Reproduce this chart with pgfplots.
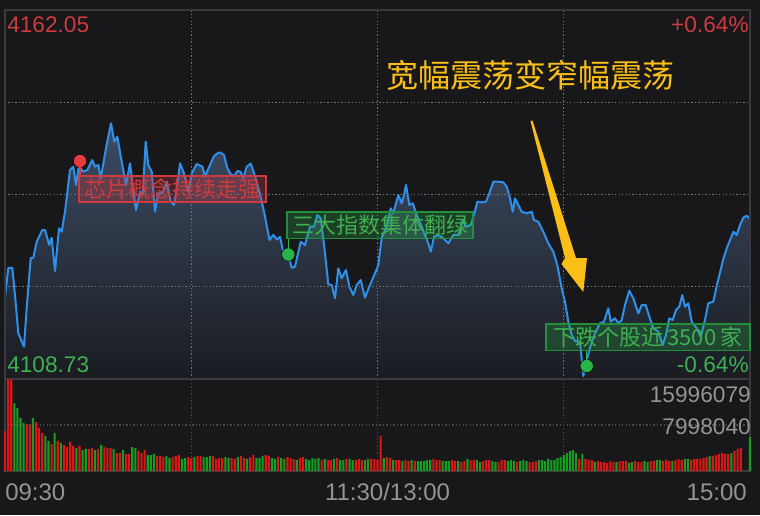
\documentclass[border=0pt]{standalone}
\usepackage{pgfplots}
\pgfplotsset{compat=1.18}
\usepackage{pgfplotstable}
\usepackage{fontspec}
\setmainfont{Liberation Sans}
\newfontfamily\cjk{Noto Sans CJK SC}

\definecolor{bg}{RGB}{24,24,26}
\definecolor{framec}{RGB}{58,58,60}
\definecolor{gridc}{RGB}{115,115,117}
\definecolor{gridv}{RGB}{72,72,74}
\definecolor{linec}{RGB}{46,144,234}
\definecolor{fillt}{RGB}{60,76,100}
\definecolor{fillb}{RGB}{26,28,33}
\definecolor{redtxt}{RGB}{205,58,64}
\definecolor{greentxt}{RGB}{62,176,82}
\definecolor{greytxt}{RGB}{148,148,150}
\definecolor{volred}{RGB}{218,22,22}
\definecolor{volgreen}{RGB}{22,158,34}
\definecolor{reddot}{RGB}{228,60,62}
\definecolor{greendot}{RGB}{42,180,72}
\definecolor{yel}{RGB}{250,190,22}

% minute index, index value
\pgfplotstableread{
m p
0 4120.62
1.06 4124.77
2.35 4124.81
3.22 4120.87
4.28 4115.38
6.12 4113.40
6.99 4118.99
8.28 4126.21
9.12 4126.25
10.21 4128.57
12.02 4130.26
12.89 4130.26
14.27 4128.09
15.04 4129.15
16.11 4124.34
17.40 4130.51
18.27 4130.01
19.33 4132.90
20.94 4138.93
22.00 4139.41
22.87 4136.76
23.84 4139.65
25.03 4138.68
26.51 4138.93
28.12 4140.37
28.99 4139.41
30.06 4139.65
30.83 4137.73
32.54 4142.07
34.15 4145.68
35.21 4143.02
36.18 4143.74
37.59 4140.13
38.98 4136.76
40.27 4139.90
41.01 4137.24
42.20 4133.15
43.49 4135.79
44.36 4135.32
45.33 4143.02
46.16 4139.65
47.26 4138.68
48.32 4132.90
49.39 4135.56
50.67 4135.56
52.09 4137.24
53.38 4134.35
54.44 4133.87
55.51 4136.76
56.38 4139.90
57.66 4138.45
59.05 4135.79
60.15 4138.45
61.76 4139.80
63.62 4139.41
64.43 4137.96
66.27 4139.90
67.33 4140.95
68.72 4141.43
69.26 4141.46
70.55 4141.10
71.61 4139.22
72.64 4138.35
73.77 4138.06
74.90 4138.79
75.87 4138.68
76.77 4137.73
77.86 4139.41
79.15 4139.87
80.54 4138.06
82.15 4135.46
83.60 4132.57
85.21 4128.81
86.43 4129.54
87.62 4128.89
88.59 4129.29
90.20 4125.92
91.27 4126.65
92.36 4124.81
93.42 4124.96
95.26 4128.57
96.65 4128.09
98.26 4130.74
99.54 4130.74
100.61 4132.43
101.70 4131.95
102.86 4127.85
104.15 4122.41
105.25 4122.31
106.31 4120.39
107.38 4124.73
108.47 4123.28
109.85 4124.48
110.92 4122.07
112.21 4120.87
113.30 4122.31
114.59 4123.03
115.97 4120.48
117.58 4122.31
119.20 4124.00
120.26 4125.20
121.36 4129.18
122.96 4130.74
124.25 4133.40
125.09 4132.67
126.70 4135.32
127.80 4134.12
128.54 4135.32
129.18 4136.76
130.25 4133.87
131.34 4134.12
132.63 4132.43
134.24 4130.74
135.30 4129.54
136.37 4128.34
137.14 4127.12
138.20 4129.29
139.59 4129.54
141.20 4129.06
142.81 4128.34
144.42 4129.54
146.03 4129.54
147.45 4131.70
148.51 4130.74
150.03 4130.98
151.09 4132.43
152.15 4134.35
153.57 4134.26
154.95 4134.35
156.02 4135.56
157.31 4137.24
158.92 4137.24
160.53 4137.15
161.62 4136.52
162.69 4134.84
163.56 4132.90
164.30 4134.84
165.36 4133.87
166.46 4132.90
168.07 4132.67
169.68 4132.90
170.42 4131.70
171.81 4131.46
173.42 4130.01
175.03 4128.34
176.64 4127.12
177.93 4125.20
179.34 4121.84
180.40 4119.90
181.47 4117.01
182.56 4115.09
183.63 4114.22
185.24 4114.12
186.30 4109.16
187.40 4111.47
188.69 4113.64
190.07 4115.33
191.68 4116.78
192.97 4117.01
194.36 4118.95
195.13 4117.01
196.51 4117.50
197.58 4116.78
198.67 4117.25
199.73 4119.42
201.12 4121.49
202.41 4120.39
204.02 4118.22
205.11 4119.42
206.40 4119.42
207.56 4117.73
208.85 4116.06
210.46 4115.56
211.88 4113.64
212.94 4115.09
214.00 4117.50
215.10 4117.25
216.16 4118.70
217.22 4119.18
218.19 4120.87
219.06 4119.18
220.12 4119.67
221.22 4117.01
222.83 4116.06
224.12 4114.84
225.50 4117.25
226.57 4119.67
228.18 4119.90
229.27 4122.17
230.34 4124.12
231.40 4126.07
232.50 4127.62
233.56 4128.81
234.63 4130.01
235.72 4129.54
236.78 4130.98
237.85 4132.04
238.94 4132.33
240 4131.85
}\price

% volume per minute, millions
\pgfplotstableread{
m v
0 6.95
1 15.99
2 15.80
7 8.17
8 8.00
10 8.52
11 7.48
12 6.61
15 4.69
17 5.22
19 4.52
20 4.17
21 5.04
22 4.35
24 4.35
27 3.83
28 4.00
30 3.83
32 4.17
33 4.00
34 4.00
36 3.13
37 3.13
39 2.96
40 2.96
43 3.48
44 3.13
45 3.65
49 2.61
50 2.61
51 2.43
54 2.43
55 2.61
56 2.78
59 2.43
60 2.26
62 2.61
63 2.61
67 2.61
68 2.09
69 2.26
70 2.26
73 2.26
74 2.09
76 2.61
77 2.26
79 2.43
80 2.78
84 2.78
85 2.61
88 2.43
91 2.43
92 2.26
93 2.09
95 2.26
96 2.43
102 1.91
104 1.91
105 1.91
107 2.26
110 2.09
113 1.91
114 2.09
115 1.91
118 2.09
119 2.09
120 1.91
121 6.09
123 2.43
124 2.26
126 1.91
127 1.91
129 1.91
130 1.74
132 1.74
138 2.09
139 1.91
140 1.91
144 1.91
145 1.74
147 1.56
148 1.74
150 1.91
151 1.91
154 1.74
155 1.91
156 1.91
159 1.56
160 1.91
161 1.91
165 1.56
169 1.56
170 1.56
171 1.74
185 2.09
187 2.09
188 1.91
189 1.91
191 1.74
192 1.56
193 1.56
194 1.39
195 1.74
196 1.56
198 1.74
199 1.74
200 1.74
203 1.74
204 1.56
205 1.56
208 1.74
209 1.74
212 1.74
213 1.91
214 1.74
216 1.91
217 2.09
218 1.91
221 1.91
222 2.09
223 2.09
224 2.09
225 2.26
226 2.43
228 2.61
229 2.78
230 2.96
231 3.13
232 2.96
233 2.96
235 3.48
236 3.83
237 4.00
}\volred

\pgfplotstableread{
m v
3 11.82
4 10.95
5 9.22
6 8.35
9 9.22
13 6.09
14 5.22
16 6.61
18 4.87
23 4.00
25 3.65
26 3.83
29 3.65
31 4.52
35 3.83
38 3.65
41 4.17
42 4.00
46 2.78
47 2.78
48 2.96
52 2.61
53 2.26
57 2.09
58 2.26
61 2.43
64 2.43
65 2.43
66 2.61
71 2.43
72 2.26
75 2.43
78 2.09
81 2.26
82 2.26
83 2.61
86 2.26
87 2.09
89 2.26
90 2.09
94 1.91
97 2.09
98 1.91
99 2.26
100 2.09
101 2.26
103 2.09
106 2.09
108 1.91
109 1.91
111 2.09
112 1.91
116 1.91
117 2.09
122 2.26
125 1.91
128 1.74
131 1.91
133 1.74
134 1.74
135 1.74
136 1.91
137 1.91
141 1.74
142 1.74
143 1.74
146 1.74
149 2.09
152 1.91
153 1.56
157 1.74
158 1.56
162 1.74
163 1.91
164 1.74
166 1.74
167 1.91
168 1.74
172 1.91
173 1.91
174 1.74
175 2.09
176 1.91
177 1.91
178 2.26
179 2.43
180 2.78
181 3.13
182 3.48
183 3.65
184 3.13
186 2.96
190 1.56
197 1.56
201 1.39
202 1.56
206 1.74
207 1.56
210 1.91
211 1.91
215 1.74
219 2.09
220 2.09
227 2.61
234 3.13
240 5.91
}\volgreen

\begin{document}
\begin{tikzpicture}[x=0.75pt,y=0.75pt]
\fill[bg] (0,0) rectangle (760,-515);

% price panel
\begin{axis}[
    at={(3.75pt,-7.5pt)}, anchor=north west,
    scale only axis, width=558.75pt, height=276.75pt,
    xmin=0, xmax=240, ymin=4108.73, ymax=4162.05,
    xtick={60,120,180}, ytick={4122.06,4135.39,4148.72},
    xticklabels={}, yticklabels={},
    major tick length=0pt,
    grid=major,
    major grid style={gridc, line width=1pt, dash pattern=on 1pt off 1.6pt},
    axis line style={framec, line width=1pt},
    axis on top,
]
\addplot[draw=none, top color=fillt, bottom color=fillb] table[x=m,y=p]{\price} \closedcycle;
\addplot[linec, line width=1.5pt, line join=round] table[x=m,y=p]{\price};
\addplot[only marks, mark=*, mark size=5pt, mark options={fill=reddot, draw=none}] coordinates {(24.16,4140.23)};
\addplot[only marks, mark=*, mark size=5pt, mark options={fill=greendot, draw=none}] coordinates {(91.27,4126.72) (187.40,4110.61)};
\end{axis}

% volume panel
\begin{axis}[
    at={(3.75pt,-284.25pt)}, anchor=north west,
    scale only axis, width=558.75pt, height=69pt,
    xmin=0, xmax=240, ymin=0, ymax=15.996079,
    xtick={60,120,180}, ytick={7.998040},
    xticklabels={}, yticklabels={},
    major tick length=0pt,
    grid=major,
    major grid style={gridv, line width=0.8pt, dash pattern=on 1pt off 1.6pt},
    axis line style={framec, line width=1pt},
    clip=false,
]
\addplot[ybar, bar width=0.68, bar shift=0pt, fill=volred, draw=none] table[x=m,y=v]{\volred};
\addplot[ybar, bar width=0.68, bar shift=0pt, fill=volgreen, draw=none] table[x=m,y=v]{\volgreen};
\end{axis}

% scale labels
\node[anchor=base west, text=redtxt, font={\fontsize{17}{20}\selectfont}, inner sep=0pt] at (7,-32.7) {4162.05};
\node[anchor=base east, text=redtxt, font={\fontsize{17}{20}\selectfont}, inner sep=0pt] at (749,-32.7) {+0.64\%};
\node[anchor=base west, text=greentxt, font={\fontsize{17}{20}\selectfont}, inner sep=0pt] at (7,-372.7) {4108.73};
\node[anchor=base east, text=greentxt, font={\fontsize{17}{20}\selectfont}, inner sep=0pt] at (749,-372.7) {-0.64\%};
\node[anchor=base east, text=greytxt, font={\fontsize{17}{20}\selectfont}, inner sep=0pt] at (751,-402.7) {15996079};
\node[anchor=base east, text=greytxt, font={\fontsize{17}{20}\selectfont}, inner sep=0pt] at (751,-434) {7998040};
\node[anchor=base west, text=greytxt, font={\fontsize{18}{21}\selectfont}, inner sep=0pt] at (5,-500) {09:30};
\node[anchor=base, text=greytxt, font={\fontsize{18}{21}\selectfont}, inner sep=0pt] at (387.5,-500) {11:30/13:00};
\node[anchor=base east, text=greytxt, font={\fontsize{18}{21}\selectfont}, inner sep=0pt] at (747,-500) {15:00};

% annotations
\draw[reddot, line width=1pt] (80,-161) -- (80,-176);
\draw[greendot, line width=1pt] (288.3,-254) -- (288.3,-238.7);
\draw[greendot, line width=1pt] (586.7,-366) -- (586.7,-350.7);
\filldraw[draw=redtxt, fill=redtxt, fill opacity=0.3, line width=1.1pt] (79,-176) rectangle (266,-202);
\filldraw[draw=greendot!80!black, fill=greendot, fill opacity=0.25, line width=1.1pt] (287,-212) rectangle (473,-238.7);
\filldraw[draw=greendot!80!black, fill=greendot, fill opacity=0.25, line width=1.1pt] (546,-324) rectangle (750,-350.7);
\node[text=redtxt, font={\cjk\fontsize{16.5}{19}\selectfont}, inner sep=0pt] at (172.5,-189) {芯片概念持续走强};
\node[text=greentxt, font={\cjk\fontsize{16.5}{19}\selectfont}, inner sep=0pt] at (380,-225.3) {三大指数集体翻绿};
\node[text=greentxt, font={\cjk\fontsize{16.5}{19}\selectfont}, inner sep=0pt] at (648,-337.3) {下跌个股近\,3500\,家};

\node[text=yel, font={\cjk\fontsize{24}{28}\selectfont}, inner sep=0pt] at (530,-75) {宽幅震荡变窄幅震荡};
\fill[yel] (530.5,-121) -- (565,-258) -- (561.5,-264) -- (583.3,-292) -- (587,-258) -- (576,-258) -- (532.5,-120.5) -- cycle;

\pgfresetboundingbox
\useasboundingbox (0,0) rectangle (760,-515);
\end{tikzpicture}
\end{document}
